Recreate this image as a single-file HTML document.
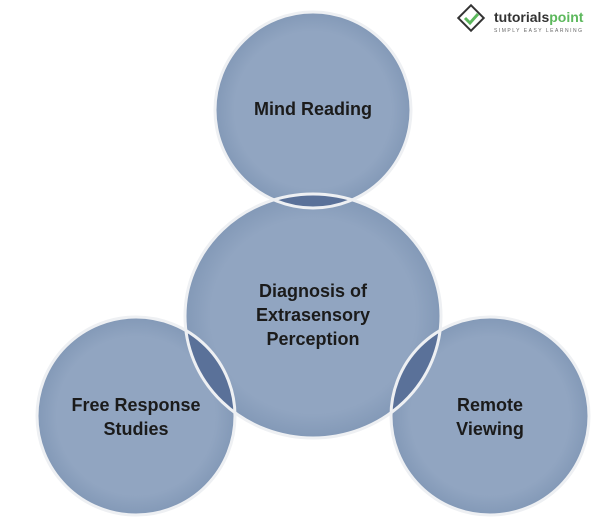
<!DOCTYPE html>
<html><head><style>body{margin:0;background:#fff;width:600px;height:527px;overflow:hidden}</style></head><body>
<svg width="600" height="527" xmlns="http://www.w3.org/2000/svg" font-family="Liberation Sans, sans-serif">
<defs>
<clipPath id="cc"><ellipse cx="313" cy="316" rx="128" ry="122"/></clipPath>
<radialGradient id="g" cx="50%" cy="50%" r="50%"><stop offset="0.8" stop-color="#91a5c1"/><stop offset="1" stop-color="#8399b7"/></radialGradient>
</defs>
<g fill="url(#g)">
<circle cx="313" cy="110" r="98"/>
<circle cx="136" cy="416" r="99"/>
<circle cx="490" cy="416" r="99"/>
<ellipse cx="313" cy="316" rx="128" ry="122"/>
</g>
<g clip-path="url(#cc)" fill="#5a7199">
<circle cx="313" cy="110" r="98"/>
<circle cx="136" cy="416" r="99"/>
<circle cx="490" cy="416" r="99"/>
</g>
<g fill="none" stroke="#eef0f3" stroke-width="3">
<circle cx="313" cy="110" r="98"/>
<circle cx="136" cy="416" r="99"/>
<circle cx="490" cy="416" r="99"/>
<ellipse cx="313" cy="316" rx="128" ry="122"/>
</g>
<g font-weight="bold" font-size="18" fill="#1b1b1b" text-anchor="middle">
<text x="313" y="115">Mind Reading</text>
<text x="313" y="297">Diagnosis of</text>
<text x="313" y="321">Extrasensory</text>
<text x="313" y="345">Perception</text>
<text x="136" y="411">Free Response</text>
<text x="136" y="435">Studies</text>
<text x="490" y="411">Remote</text>
<text x="490" y="435">Viewing</text>
</g>
<g>
<rect x="462" y="9" width="18" height="18" transform="rotate(45 471 18)" fill="#fff" stroke="#333" stroke-width="2"/>
<path d="M465 18 l5 5 l8 -9" fill="none" stroke="#5cb85c" stroke-width="3"/>
<text x="494" y="22" font-size="14" font-weight="bold" fill="#333">tutorials<tspan fill="#5cb85c">point</tspan></text>
<text x="494" y="32" font-size="5" fill="#666" letter-spacing="1.5">SIMPLY EASY LEARNING</text>
</g>
</svg>
</body></html>
